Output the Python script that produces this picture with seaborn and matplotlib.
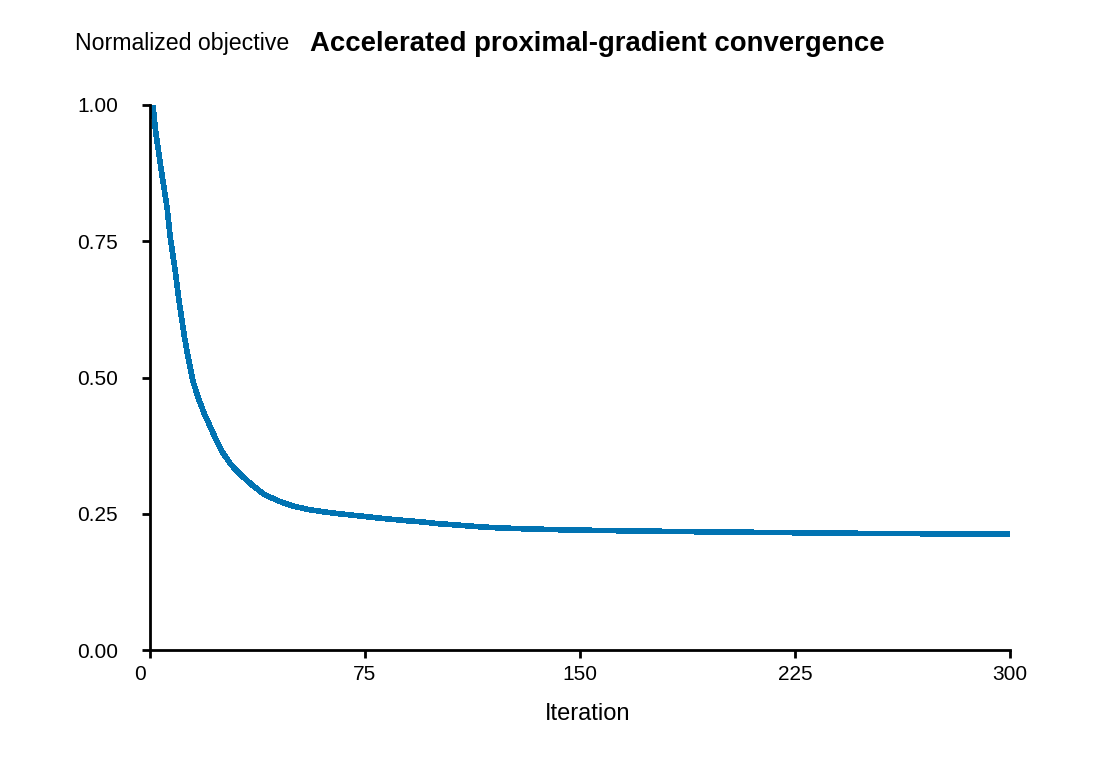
import matplotlib
matplotlib.use("Agg")
import matplotlib.pyplot as plt
import matplotlib.transforms as mtransforms
import seaborn as sns
import pandas as pd

# values
iterations = [1, 2, 4, 6, 7, 9, 10, 12, 13, 15, 17, 19, 22, 25, 28, 30, 33, 36,
              40, 45, 50, 55, 60, 66, 75, 80, 90, 95, 100, 108, 115, 122, 130,
              144, 165, 192, 210, 228, 250, 274, 300]
objective = [1.000, 0.950, 0.878, 0.810, 0.760, 0.688, 0.645, 0.575, 0.545,
             0.493, 0.460, 0.433, 0.398, 0.365, 0.342, 0.330, 0.315, 0.301,
             0.285, 0.273, 0.264, 0.258, 0.254, 0.250, 0.245, 0.242, 0.237,
             0.235, 0.232, 0.229, 0.226, 0.224, 0.2225, 0.2205, 0.2187,
             0.2169, 0.216, 0.215, 0.214, 0.2132, 0.2125]
x_ticks = [0, 75, 150, 225, 300]
y_ticks = [0.00, 0.25, 0.50, 0.75, 1.00]

sns.set_style("ticks")
plt.rcParams["font.family"] = ["Liberation Sans", "DejaVu Sans"]

df = pd.DataFrame({"Iteration": iterations, "objective": objective})
color = sns.color_palette("colorblind")[0]

fig = plt.figure(figsize=(11, 7.6), dpi=100)
ax = fig.add_axes([150 / 1100, 1 - 650 / 760, 860 / 1100, 545 / 760])

sns.lineplot(data=df, x="Iteration", y="objective", color=color,
             linewidth=3.3, ax=ax, antialiased=False)

ax.set_xlim(0, 300)
ax.set_ylim(0, 1)
ax.set_xticks(x_ticks)
ax.set_xticklabels([str(t) for t in x_ticks])
ax.set_yticks(y_ticks)
ax.set_yticklabels([f"{t:.2f}" for t in y_ticks])
sns.despine(ax=ax)
for side in ["left", "bottom"]:
    ax.spines[side].set_linewidth(2)
    ax.spines[side].set_color("black")
ax.tick_params(axis="both", length=6, width=2, color="black", labelsize=15,
               labelcolor="black")
ax.tick_params(axis="y", pad=17)
ax.tick_params(axis="x", pad=5)

# first x label sits a little left of its tick in the reference
first = ax.get_xticklabels()[0]
first.set_transform(first.get_transform() +
                    mtransforms.ScaledTranslation(-10 / 100, 0, fig.dpi_scale_trans))

ax.set_xlabel("Iteration", fontsize=17, color="black")
ax.xaxis.set_label_coords((588 - 150) / 860, (650 - 714) / 545)
ax.xaxis.label.set_va("center")
ax.set_ylabel("")

fig.text(75 / 1100, 1 - 50 / 760, "Normalized objective", fontsize=16.7,
         ha="left", va="baseline", color="black")
fig.text(310 / 1100, 1 - 51 / 760, "Accelerated proximal-gradient convergence",
         fontsize=19.8, fontweight="bold", ha="left", va="baseline", color="black")

fig.savefig("out.png", dpi=100)
plt.close(fig)
